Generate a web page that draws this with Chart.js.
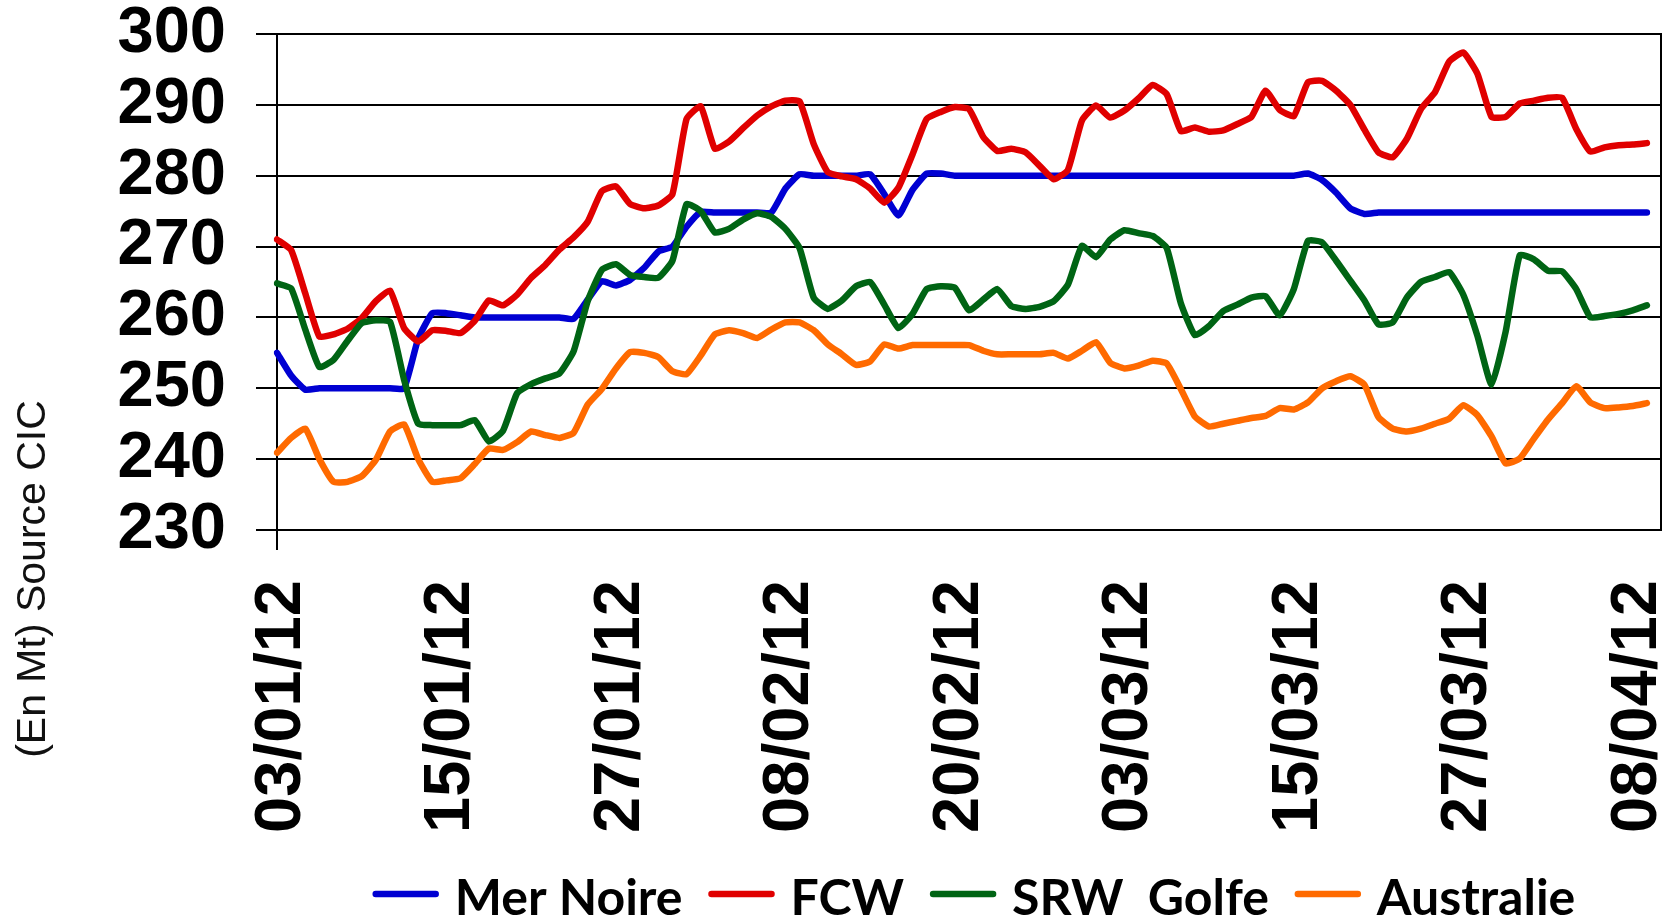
<!DOCTYPE html>
<html>
<head>
<meta charset="utf-8">
<script src="https://cdn.jsdelivr.net/npm/chart.js@4.4.0/dist/chart.umd.min.js"></script>
<style>
  html, body { margin: 0; padding: 0; background: #fff; }
  #wrap { width: 1669px; height: 922px; }
</style>
</head>
<body>
<div id="wrap"><canvas id="chart" width="1669" height="922"></canvas></div>
<script>
// daily categories, 03/01/12 -> 10/04/12
const dayLabels = [];
for (let i = 0; i < 99; i++) {
    const d = new Date(2012, 0, 3 + i);
    const dd = String(d.getDate()).padStart(2, '0');
    const mm = String(d.getMonth() + 1).padStart(2, '0');
    dayLabels.push(dd + '/' + mm + '/12');
}

// labels shown on the x axis
const tickLabels = ['03/01/12', '15/01/12', '27/01/12', '08/02/12', '20/02/12',
    '03/03/12', '15/03/12', '27/03/12', '08/04/12'];

const merNoire = [
    255, 251.8, 249.8, 250, 250, 250, 250, 250, 250, 250,
    257, 260.6, 260.6, 260.3, 260, 260, 260, 260, 260, 260,
    260, 259.8, 262.5, 265.1, 264.5, 265.3, 267, 269.3, 270, 272.8,
    274.9, 274.8, 274.8, 274.8, 274.8, 274.8, 278.2, 280.2, 280, 280,
    280, 280, 280.2, 277.4, 274.4, 278, 280.3, 280.3, 280, 280,
    280, 280, 280, 280, 280, 280, 280, 280, 280, 280,
    280, 280, 280, 280, 280, 280, 280, 280, 280, 280,
    280, 280, 280, 280.3, 279.4, 277.6, 275.4, 274.6, 274.8, 274.8,
    274.8, 274.8, 274.8, 274.8, 274.8, 274.8, 274.8, 274.8, 274.8, 274.8,
    274.8, 274.8, 274.8, 274.8, 274.8, 274.8, 274.8, 274.8
];

const fcw = [
    271, 269.5, 263.4, 257.3, 257.6, 258.4, 259.9, 262.3, 263.8, 258.5,
    256.6, 258.2, 258.1, 257.8, 259.5, 262.4, 261.7, 263.2, 265.6, 267.4,
    269.6, 271.3, 273.5, 277.8, 278.5, 276, 275.4, 275.8, 277.4, 288,
    289.8, 283.8, 284.8, 286.7, 288.5, 289.8, 290.6, 290.5, 284.5, 280.5,
    279.9, 279.5, 278.2, 276.2, 278.3, 283, 288, 289, 289.7, 289.4,
    285.5, 283.5, 283.8, 283.3, 281.4, 279.5, 280.8, 287.8, 289.9, 288.2,
    289.2, 290.9, 292.8, 291.5, 286.3, 286.8, 286.2, 286.4, 287.3, 288.3,
    292, 289.3, 288.4, 293.2, 293.4, 292, 290, 286.5, 283.3, 282.6,
    285.2, 289.4, 291.8, 296.1, 297.4, 294.4, 288.3, 288.3, 290.2, 290.6,
    291, 291, 286.6, 283.4, 284, 284.3, 284.4, 284.6
];

const srwGolfe = [
    264.8, 264.1, 258.3, 253, 254, 256.7, 259.2, 259.6, 259.4, 251.2,
    245, 244.8, 244.8, 244.8, 245.5, 242.5, 244, 249.3, 250.6, 251.4,
    252.1, 255.2, 262.3, 266.7, 267.5, 266, 265.7, 265.6, 268, 276,
    275, 272, 272.5, 273.8, 274.7, 274.2, 272.5, 269.8, 262.8, 261.2,
    262.4, 264.4, 265, 261.8, 258.5, 260.5, 264, 264.4, 264.2, 261,
    262.5, 264, 261.6, 261.2, 261.5, 262.3, 264.6, 270.1, 268.5, 271,
    272.3, 271.9, 271.5, 269.8, 262, 257.5, 258.8, 260.9, 261.8, 262.8,
    263, 260.3, 264, 270.8, 270.6, 268, 265.2, 262.4, 259, 259.3,
    262.8, 265, 265.7, 266.4, 263.2, 257.4, 250.5, 258, 268.8, 268.2,
    266.6, 266.5, 264, 260, 260.2, 260.5, 261, 261.7
];

const australie = [
    240.9, 243, 244.3, 240, 236.8, 236.8, 237.6, 239.9, 243.9, 244.9,
    240, 236.8, 237, 237.3, 239.3, 241.5, 241.3, 242.4, 243.9, 243.4,
    243, 243.7, 247.7, 249.9, 252.8, 255.1, 255, 254.4, 252.4, 252,
    254.6, 257.6, 258.2, 257.8, 257.1, 258.3, 259.3, 259.3, 258.2, 256.2,
    254.8, 253.3, 253.8, 256.2, 255.6, 256.1, 256.1, 256.1, 256.1, 256.1,
    255.3, 254.8, 254.8, 254.8, 254.8, 255, 254.2, 255.3, 256.5, 253.6,
    252.8, 253.2, 253.9, 253.5, 249.9, 246, 244.6, 245, 245.4, 245.8,
    246.1, 247.2, 247, 248, 250, 251, 251.7, 250.5, 245.9, 244.3,
    243.9, 244.3, 245, 245.7, 247.6, 246.2, 243.2, 239.4, 240.1, 242.9,
    245.6, 247.9, 250.3, 248, 247.2, 247.3, 247.5, 247.9
];

const tickFont = { family: "'Liberation Sans', Arial, sans-serif", size: 65, weight: 'bold', lineHeight: 1 };

function line(label, data, color, order) {
    return {
        label: label,
        data: data,
        borderColor: color,
        backgroundColor: color,
        borderWidth: 6.5,
        pointRadius: 0,
        tension: 0.15,
        borderCapStyle: 'round',
        borderJoinStyle: 'round',
        order: order
    };
}

// plot frame, y title and bottom legend, drawn by hand
const frame = {
    id: 'frame',
    beforeDatasetsDraw(chart) {
        const a = chart.chartArea, ctx = chart.ctx;
        ctx.save();
        ctx.strokeStyle = '#000';
        ctx.lineWidth = 2;
        ctx.strokeRect(a.left, a.top, a.right - a.left, a.bottom - a.top);
        ctx.restore();
    },
    afterDraw(chart) {
        const ctx = chart.ctx;
        ctx.save();
        ctx.translate(34, 579);
        ctx.rotate(-Math.PI / 2);
        ctx.font = "41px 'Liberation Sans', Arial, sans-serif";
        ctx.fillStyle = '#111';
        ctx.textAlign = 'center';
        ctx.textBaseline = 'middle';
        ctx.fillText('(En Mt) Source CIC', 0, 0);
        ctx.restore();

        // legend: line, small gap, label, bigger gap
        const sets = chart.data.datasets;
        const lineLen = 66, gapIn = 16, gapOut = 26;
        ctx.save();
        ctx.font = "bold 50px Lato, 'Liberation Sans', sans-serif";
        let total = 0;
        sets.forEach((ds, i) => {
            total += lineLen + gapIn + ctx.measureText(ds.label).width + (i < sets.length - 1 ? gapOut : 0);
        });
        let x = 974 - total / 2;
        sets.forEach((ds) => {
            ctx.strokeStyle = ds.borderColor;
            ctx.lineWidth = 6.5;
            ctx.lineCap = 'round';
            ctx.beginPath();
            ctx.moveTo(x + 3, 894);
            ctx.lineTo(x + lineLen - 3, 894);
            ctx.stroke();
            x += lineLen + gapIn;
            ctx.fillStyle = '#000';
            ctx.textBaseline = 'alphabetic';
            ctx.fillText(ds.label, x, 915);
            x += ctx.measureText(ds.label).width + gapOut;
        });
        ctx.restore();
    }
};

// scales must not push the plot area around
function noPad(s) {
    s.paddingTop = 0;
    s.paddingBottom = 0;
    s.paddingLeft = 0;
    s.paddingRight = 0;
}

new Chart(document.getElementById('chart'), {
    type: 'line',
    data: {
        labels: dayLabels,
        datasets: [
            line('Mer Noire', merNoire, '#0000d2', 4),
            line('FCW', fcw, '#e00000', 3),
            line('SRW  Golfe', srwGolfe, '#006414', 2),
            line('Australie', australie, '#ff6a00', 1)
        ]
    },
    options: {
        responsive: false,
        animation: false,
        devicePixelRatio: 1,
        layout: { padding: { top: 34, right: 8, left: 0, bottom: 60 } },
        plugins: {
            legend: { display: false },
            tooltip: { enabled: false }
        },
        scales: {
            x: {
                ticks: {
                    autoSkip: false,
                    minRotation: 90,
                    maxRotation: 90,
                    padding: 30,
                    labelOffset: 5,
                    color: '#000',
                    font: tickFont,
                    callback: function (value) {
                        const lab = this.getLabelForValue(value);
                        return tickLabels.includes(lab) ? lab : null;
                    }
                },
                grid: {
                    drawOnChartArea: false,
                    tickLength: 20,
                    lineWidth: 2,
                    tickColor: (c) => tickLabels.includes(dayLabels[c.index]) ? '#000' : 'rgba(0,0,0,0)'
                },
                border: { color: '#000', width: 2 },
                afterFit: (s) => { s.height = 332; noPad(s); }
            },
            y: {
                min: 230,
                max: 300,
                ticks: { stepSize: 10, autoSkip: false, padding: 30, color: '#000', font: tickFont },
                grid: { color: '#000', lineWidth: 2, tickLength: 21 },
                border: { color: '#000', width: 2 },
                afterFit: (s) => { s.width = 277; noPad(s); }
            }
        }
    },
    plugins: [frame]
});
</script>
</body>
</html>
